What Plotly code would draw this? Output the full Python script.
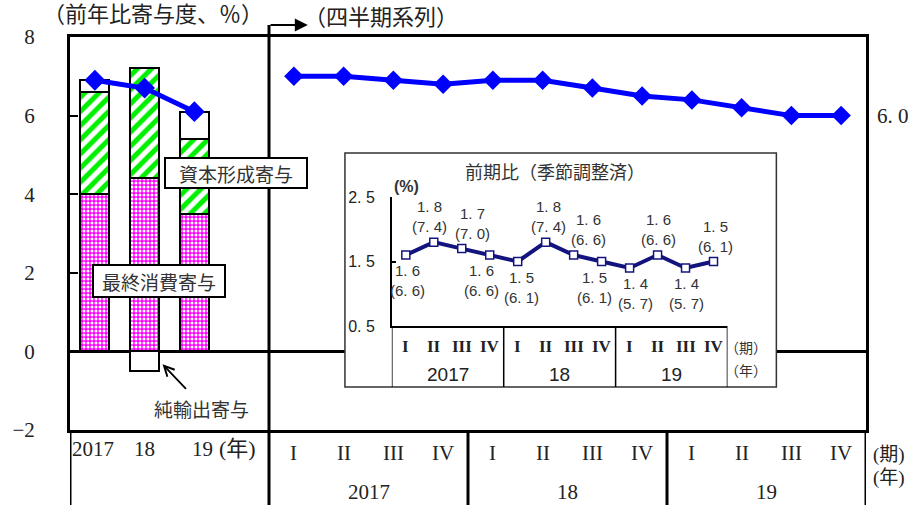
import plotly.graph_objects as go

# Annual contributions to real GDP growth (percentage points)
annual_years = ["2017", "18", "19"]
final_consumption = [4.0, 4.4, 3.5]
capital_formation = [2.6, 2.8, 1.9]
net_exports = [0.3, -0.5, 0.7]
gdp_growth_annual = [6.9, 6.7, 6.1]

# Quarterly series
quarter_names = ["I", "II", "III", "IV"]
quarter_years = ["2017", "18", "19"]
gdp_growth_yoy = [7.0, 7.0, 6.9, 6.8, 6.9, 6.9, 6.7, 6.5, 6.4, 6.2, 6.0, 6.0]
gdp_growth_qoq = [1.6, 1.8, 1.7, 1.6, 1.5, 1.8, 1.6, 1.5, 1.4, 1.6, 1.4, 1.5]
gdp_growth_qoq_ann = [6.6, 7.4, 7.0, 6.6, 6.1, 7.4, 6.6, 6.1, 5.7, 6.6, 5.7, 6.1]

main_ticks = [-2, 0, 2, 4, 6, 8]
inset_ticks = [0.5, 1.5, 2.5]

# label placement for the inset points
label_side = ["below", "above", "above", "below", "below", "above",
              "above", "below", "below", "above", "below", "above"]
label_dx = [2, -4, 11, -8, 4, 3, 15, -7, 6, 1, 1, 2]

SERIF = "Liberation Serif, Noto Sans CJK JP"
SANS = "Liberation Sans, Noto Sans CJK JP"
CJK = "Noto Sans CJK JP"
INK = "#222222"
BLUE = "#0000FF"
NAVY = "#14147F"


def fmt(v):
    return f"{v:.1f}".replace(".", ". ")


def label(text, xref, yref, x, y, font, **kw):
    d = dict(text=text, xref=xref, yref=yref, x=x, y=y, showarrow=False,
             xanchor="center", yanchor="middle", font=font)
    d.update(kw)
    return d


# slot layout on the main x axis: 3 annual slots, one gap, 12 quarters
annual_x = list(range(len(annual_years)))
n_q = len(gdp_growth_yoy)
quarter_x = [len(annual_years) + 1 + i for i in range(n_q)]
inset_x = list(range(n_q))

fig = go.Figure()

bar_line = dict(color="black", width=2)
fig.add_trace(go.Bar(
    x=annual_x, y=final_consumption, width=0.58,
    marker=dict(color="#FF00FF", line=bar_line,
                pattern=dict(shape=".", bgcolor="#FF00FF", fgcolor="white",
                             size=4, solidity=0.45, fillmode="replace")),
    showlegend=False, hoverinfo="skip"))
fig.add_trace(go.Bar(
    x=annual_x, y=capital_formation, width=0.58,
    marker=dict(color="white", line=bar_line,
                pattern=dict(shape="/", bgcolor="white", fgcolor="#00F000",
                             size=10, solidity=0.5, fillmode="replace")),
    showlegend=False, hoverinfo="skip"))
fig.add_trace(go.Bar(
    x=annual_x, y=net_exports, width=0.58,
    marker=dict(color="white", line=bar_line),
    showlegend=False, hoverinfo="skip"))

fig.add_trace(go.Scatter(
    x=annual_x, y=gdp_growth_annual, mode="lines+markers",
    line=dict(color=BLUE, width=5),
    marker=dict(symbol="diamond", size=16, color=BLUE),
    showlegend=False, hoverinfo="skip"))
fig.add_trace(go.Scatter(
    x=quarter_x, y=gdp_growth_yoy, mode="lines+markers",
    line=dict(color=BLUE, width=5),
    marker=dict(symbol="diamond", size=15, color=BLUE),
    showlegend=False, hoverinfo="skip"))

# inset: quarter-on-quarter growth
fig.add_trace(go.Scatter(
    x=inset_x, y=gdp_growth_qoq, mode="lines+markers",
    xaxis="x2", yaxis="y2",
    line=dict(color=NAVY, width=4),
    marker=dict(symbol="square", size=8, color="white",
                line=dict(color=NAVY, width=1.5)),
    showlegend=False, hoverinfo="skip"))

INSET_X0, INSET_X1 = 0.3454, 0.8874
INSET_Y0, INSET_Y1 = 0.1094, 0.7048
I_AX_X0, I_AX_X1 = 0.4043, 0.8260
I_AX_Y0, I_AX_Y1 = 0.2646, 0.5929

fig.update_layout(
    width=915, height=505,
    margin=dict(l=67, r=49, t=37, b=75),
    paper_bgcolor="white", plot_bgcolor="rgba(0,0,0,0)",
    barmode="relative", bargap=0,
    xaxis=dict(range=[-0.5, quarter_x[-1] + 0.5], showline=True, linewidth=3,
               linecolor="black", mirror=True, showticklabels=False,
               ticks="", showgrid=False, zeroline=False, fixedrange=True),
    yaxis=dict(range=[main_ticks[0], main_ticks[-1]], tickvals=main_ticks,
               ticktext=[str(v).replace("-", "\u2212") for v in main_ticks],
               ticks="inside", ticklen=8, tickwidth=2, tickcolor="black",
               showline=True, linewidth=3, linecolor="black", mirror=True,
               showgrid=False, zeroline=False, ticklabelstandoff=28,
               tickfont=dict(family=SERIF, size=21, color=INK)),
    xaxis2=dict(domain=[I_AX_X0, I_AX_X1], anchor="y2",
                range=[-0.5, n_q - 0.5], showline=True, linewidth=1.5,
                linecolor="black", showticklabels=False, ticks="",
                showgrid=False, zeroline=False),
    yaxis2=dict(domain=[I_AX_Y0, I_AX_Y1], anchor="x2",
                range=[inset_ticks[0], inset_ticks[-1]], tickvals=inset_ticks,
                ticktext=[fmt(v) for v in inset_ticks],
                ticks="inside", ticklen=4, tickwidth=1.5, tickcolor="black",
                showline=True, linewidth=1.5, linecolor="black",
                showgrid=False, zeroline=False, ticklabelstandoff=12,
                tickfont=dict(family=SANS, size=16, color=INK)),
)

shapes = []
# zero line of the main chart (kept under the inset panel)
shapes.append(dict(type="line", xref="paper", yref="y", x0=0, x1=1, y0=0, y1=0,
                   line=dict(color="black", width=3), layer="below"))
# inset panel
shapes.append(dict(type="rect", xref="paper", yref="paper",
                   x0=INSET_X0, x1=INSET_X1, y0=INSET_Y0, y1=INSET_Y1,
                   fillcolor="white", line=dict(color="#333333", width=1.5),
                   layer="below"))
# inset category table
for xv in [-0.5, 3.5, 7.5, 11.5]:
    shapes.append(dict(type="line", xref="x2", yref="paper", x0=xv, x1=xv,
                       y0=INSET_Y0, y1=I_AX_Y0,
                       line=dict(color="black", width=1.5)))
# main category table below the plot and the annual/quarterly divider
divider = len(annual_years) + 0.5
for xv in [-0.5, divider, divider + 4, divider + 8, quarter_x[-1] + 0.5]:
    top = 1.0305 if xv == divider else 0
    shapes.append(dict(type="line", xref="x", yref="paper", x0=xv, x1=xv,
                       y0=-0.2, y1=top, line=dict(color="black", width=3)))
fig.update_layout(shapes=shapes)

ann = []
ann.append(label("（前年比寄与度、％）", "paper", "paper", -0.036, 1.058,
                 dict(family=SERIF, size=22, color=INK), xanchor="left"))
ann.append(label("（四半期系列）", "paper", "paper", 0.291, 1.049,
                 dict(family=SERIF, size=22, color=INK), xanchor="left"))
ann.append(dict(text="", xref="x", yref="paper", x=divider + 0.78, y=1.0305,
                axref="x", ax=divider, ayref="pixel", ay=0, showarrow=True,
                arrowhead=2, arrowsize=1.3, arrowwidth=2, arrowcolor="black"))

# last quarterly value
ann.append(label(fmt(gdp_growth_yoy[-1]), "paper", "y", 1.011,
                 gdp_growth_yoy[-1], dict(family=SERIF, size=21, color=INK),
                 xanchor="left"))

# component labels
box_font = dict(family=CJK, size=19, color="#333333")
ann.append(label("資本形成寄与", "x", "y", 2.84, 4.55, box_font,
                 bgcolor="white", bordercolor="black", borderwidth=2,
                 borderpad=0, width=140, height=28))
ann.append(label("最終消費寄与", "x", "y", 1.28, 1.80, box_font,
                 bgcolor="white", bordercolor="black", borderwidth=2,
                 borderpad=0, width=130, height=30))
ann.append(label("純輸出寄与", "x", "y", 2.14, -1.45, box_font))
ann.append(dict(text="", xref="x", yref="y", x=1.36, y=-0.33,
                axref="x", ax=1.86, ayref="y", ay=-0.99, showarrow=True,
                arrowhead=5, arrowsize=1.1, arrowwidth=1.8, arrowcolor="black"))

# main category labels
row1_y, row2_y = -0.058, -0.158
label_font = dict(family=SERIF, size=21, color=INK)
for i, (xv, name) in enumerate(zip(annual_x, annual_years)):
    shift = [-2, 0, 8][i]
    ann.append(label(name, "x", "paper", xv, -0.048, label_font, xshift=shift))
ann.append(label("(年)", "x", "paper", annual_x[-1], -0.048,
                 dict(family=SERIF, size=22, color=INK), xshift=43))
for i, xv in enumerate(quarter_x):
    ann.append(label(quarter_names[i % 4], "x", "paper", xv, row1_y, label_font))
for j, yr in enumerate(quarter_years):
    xc = (quarter_x[4 * j] + quarter_x[4 * j + 3]) / 2
    ann.append(label(yr, "x", "paper", xc, row2_y, label_font))
side_font = dict(family=SERIF, size=19, color=INK)
ann.append(label("(期)", "paper", "paper", 1.029, -0.064, side_font))
ann.append(label("(年)", "paper", "paper", 1.029, -0.122, side_font))

# inset texts
ann.append(label("前期比（季節調整済）", "paper", "paper", 0.6095, 0.659,
                 dict(family=CJK, size=18, color="#333333")))
ann.append(label("<b>(%)</b>", "paper", "paper", 0.423, 0.619,
                 dict(family=SANS, size=16, color="#333333")))
for i, (v, a) in enumerate(zip(gdp_growth_qoq, gdp_growth_qoq_ann)):
    above = label_side[i] == "above"
    ann.append(label(f"{fmt(v)}<br>({fmt(a)})", "x2", "y2", inset_x[i], v,
                     dict(family=SANS, size=15, color="#333333"),
                     xshift=label_dx[i], yshift=5 if above else -5,
                     yanchor="bottom" if above else "top", align="center"))
for i, xv in enumerate(inset_x):
    ann.append(label(f"<b>{quarter_names[i % 4]}</b>", "x2", "paper", xv,
                     0.2112, dict(family=SERIF, size=17, color=INK)))
for j, yr in enumerate(quarter_years):
    xc = (inset_x[4 * j] + inset_x[4 * j + 3]) / 2
    ann.append(label(yr, "x2", "paper", xc, 0.14,
                     dict(family=SANS, size=19, color=INK)))
small_cjk = dict(family=CJK, size=14, color="#333333")
ann.append(label("（期）", "paper", "paper", 0.849, 0.210, small_cjk,
                 borderpad=0))
ann.append(label("（年）", "paper", "paper", 0.849, 0.153, small_cjk,
                 borderpad=0))

fig.update_layout(annotations=ann)
fig.write_html("out.html")
